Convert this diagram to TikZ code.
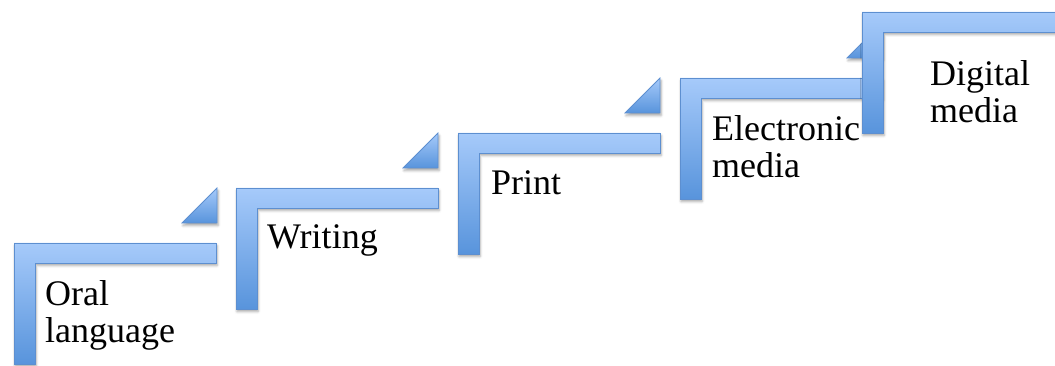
\documentclass[tikz,border=0pt]{standalone}
\usepackage{fontspec}
\setmainfont{Liberation Serif}
\usetikzlibrary{shadows.blur}
\definecolor{steptop}{HTML}{A6CAFA}
\definecolor{stepbot}{HTML}{5894DC}
\definecolor{stepedge}{HTML}{5D8FD0}
\tikzset{
  x=1pt, y=-1pt,
  stepfill/.style={top color=steptop, bottom color=stepbot, draw=stepedge,
    line width=0.8pt, line join=miter,
    blur shadow={shadow xshift=1pt, shadow yshift=-2.5pt, shadow blur radius=2.5pt, shadow opacity=35}},
  lstep/.pic={
    \path[stepfill] (0,0) -- (202,0) -- (202,20) -- (21,20) -- (21,121) -- (0,121) -- cycle;
  },
  tristep/.pic={
    \path[stepfill] (0,35) -- (35,35) -- (35,0) -- cycle;
  },
  steplabel/.style={anchor=base west, inner sep=0pt, align=left,
    font=\fontsize{36}{37}\selectfont}
}
\begin{document}
\begin{tikzpicture}
\useasboundingbox (0,0) rectangle (1055,366);
\clip (0,0) rectangle (1055,366);
% stair steps, lowest first
\pic at (14,243) {lstep};
\pic at (182,188) {tristep};
\pic at (236,188) {lstep};
\pic at (403,133) {tristep};
\pic at (458,133) {lstep};
\pic at (625,78) {tristep};
\pic at (680,78) {lstep};
\pic at (847,23) {tristep};
\pic at (862,12) {lstep};
% step labels (base anchor sits on the last line)
\node[steplabel] (oral) at (45,342) {Oral\\language};
\node[steplabel] (writing) at (267,248) {Writing};
\node[steplabel] (print) at (491,195) {Print};
\node[steplabel] (electronic) at (712,178) {Electronic\\media};
\node[steplabel] (digital) at (930,123) {Digital\\media};
\end{tikzpicture}
\end{document}
